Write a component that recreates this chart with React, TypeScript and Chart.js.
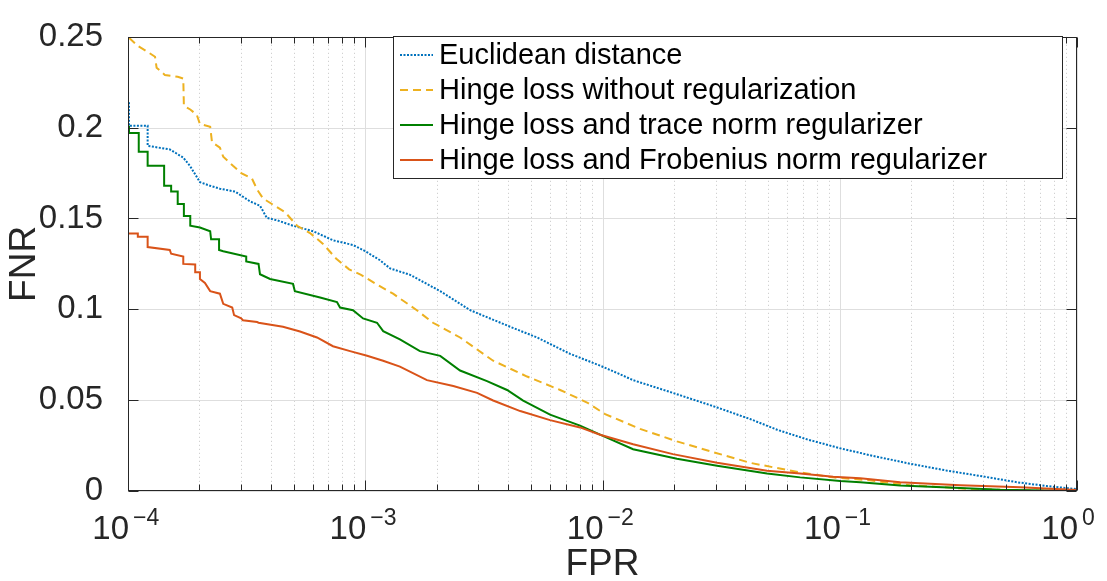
import React, { useEffect, useRef } from 'react';
import { Chart, registerables } from 'chart.js';

Chart.register(...registerables);

const FONT = '"Liberation Sans", Arial, Helvetica, sans-serif';

const seriesLabels = [
  'Euclidean distance',
  'Hinge loss without regularization',
  'Hinge loss and trace norm regularizer',
  'Hinge loss and Frobenius norm regularizer',
];
const seriesColors = ['#0072BD', '#EDB120', '#008000', '#D95319'];

const euclidFPR = [1.01e-4, 1.01e-4, 1.21e-4, 1.21e-4, 1.5e-4, 1.71e-4, 1.83e-4, 2.01e-4, 2.22e-4, 2.44e-4, 2.83e-4, 3.27e-4, 3.6e-4, 3.85e-4, 4.25e-4, 4.96e-4, 6.03e-4, 7.31e-4, 8.88e-4, 1.0e-3, 1.154e-3, 1.273e-3, 1.545e-3, 2.07e-3, 2.77e-3, 4.08e-3, 5.3e-3, 7.3e-3, 9.77e-3, 1.164e-2, 1.346e-2, 1.98e-2, 3.04e-2, 4.19e-2, 5.45e-2, 7.29e-2, 0.1004, 0.1383, 0.198, 0.2837, 0.4024, 0.56, 0.749, 1.0];
const euclidFNR = [0.214, 0.201, 0.201, 0.19, 0.188, 0.1835, 0.1787, 0.17, 0.168, 0.1664, 0.1648, 0.1594, 0.157, 0.1503, 0.149, 0.146, 0.143, 0.138, 0.1354, 0.132, 0.127, 0.1225, 0.119, 0.11, 0.0995, 0.0904, 0.0845, 0.0755, 0.069, 0.0647, 0.061, 0.054, 0.046, 0.0396, 0.0337, 0.0284, 0.0235, 0.0193, 0.015, 0.0112, 0.008, 0.0048, 0.0027, 0.001];

const hingeFPR = [1.01e-4, 1.1e-4, 1.2e-4, 1.3e-4, 1.32e-4, 1.43e-4, 1.62e-4, 1.71e-4, 1.72e-4, 1.83e-4, 1.95e-4, 2.01e-4, 2.22e-4, 2.26e-4, 2.44e-4, 2.52e-4, 2.77e-4, 3.0e-4, 3.33e-4, 3.5e-4, 3.71e-4, 4.59e-4, 5.16e-4, 5.85e-4, 6.64e-4, 7.53e-4, 8.55e-4, 9.6e-4, 1.11e-3, 1.31e-3, 1.65e-3, 1.93e-3, 2.51e-3, 3.46e-3, 4.81e-3, 6.63e-3, 8.61e-3, 1.026e-2, 1.44e-2, 2.06e-2, 2.84e-2, 4.19e-2, 6.81e-2, 9.38e-2, 0.1305, 0.198, 0.35, 0.6, 1.0];
const hingeFNR = [0.2495, 0.245, 0.242, 0.239, 0.233, 0.229, 0.228, 0.227, 0.212, 0.21, 0.207, 0.202, 0.2005, 0.192, 0.189, 0.184, 0.179, 0.175, 0.172, 0.166, 0.161, 0.1535, 0.146, 0.142, 0.136, 0.128, 0.122, 0.119, 0.114, 0.1086, 0.0995, 0.0926, 0.0845, 0.0717, 0.063, 0.0556, 0.0487, 0.0423, 0.0342, 0.0273, 0.0219, 0.0155, 0.0102, 0.0075, 0.006, 0.0032, 0.0012, 0.0003, 0];

const traceFPR = [1.01e-4, 1.01e-4, 1.11e-4, 1.11e-4, 1.21e-4, 1.21e-4, 1.42e-4, 1.42e-4, 1.52e-4, 1.52e-4, 1.62e-4, 1.62e-4, 1.72e-4, 1.72e-4, 1.83e-4, 1.83e-4, 2.01e-4, 2.22e-4, 2.24e-4, 2.42e-4, 2.42e-4, 2.52e-4, 3.15e-4, 3.15e-4, 3.55e-4, 3.6e-4, 3.97e-4, 4.96e-4, 5.05e-4, 6.45e-4, 7.6e-4, 7.83e-4, 8.88e-4, 9.79e-4, 1.121e-3, 1.19e-3, 1.4e-3, 1.7e-3, 2.07e-3, 2.51e-3, 3.26e-3, 3.96e-3, 4.63e-3, 6.01e-3, 8.04e-3, 9.77e-3, 1.346e-2, 2.06e-2, 3.04e-2, 4.94e-2, 6.81e-2, 0.1004, 0.122, 0.1797, 0.322, 0.4746, 1.0];
const traceFNR = [0.201, 0.197, 0.197, 0.1867, 0.1867, 0.179, 0.179, 0.168, 0.168, 0.1648, 0.1648, 0.158, 0.158, 0.1514, 0.1514, 0.146, 0.145, 0.143, 0.1385, 0.1385, 0.1327, 0.132, 0.129, 0.1263, 0.125, 0.1193, 0.1167, 0.114, 0.11, 0.1065, 0.104, 0.101, 0.0995, 0.095, 0.0926, 0.088, 0.0835, 0.077, 0.0744, 0.0663, 0.0605, 0.0556, 0.0498, 0.042, 0.036, 0.031, 0.023, 0.0177, 0.0139, 0.0096, 0.0075, 0.0055, 0.0048, 0.003, 0.0016, 0.0007, 0];

const frobFPR = [1.01e-4, 1.1e-4, 1.1e-4, 1.21e-4, 1.21e-4, 1.5e-4, 1.52e-4, 1.71e-4, 1.71e-4, 1.92e-4, 1.92e-4, 2.01e-4, 2.01e-4, 2.11e-4, 2.22e-4, 2.44e-4, 2.52e-4, 2.75e-4, 2.8e-4, 3.0e-4, 3.05e-4, 3.5e-4, 3.55e-4, 4.5e-4, 5.31e-4, 6.26e-4, 7.31e-4, 8.63e-4, 1.018e-3, 1.189e-3, 1.4e-3, 1.82e-3, 2.35e-3, 2.96e-3, 3.46e-3, 4.5e-3, 6.01e-3, 8.04e-3, 9.77e-3, 1.346e-2, 1.98e-2, 3.04e-2, 4.94e-2, 6.81e-2, 9.38e-2, 0.122, 0.1797, 0.322, 0.576, 1.0];
const frobFNR = [0.1418, 0.1418, 0.14, 0.14, 0.1343, 0.1327, 0.1306, 0.129, 0.125, 0.1247, 0.1204, 0.1204, 0.1167, 0.1145, 0.11, 0.1086, 0.103, 0.101, 0.0968, 0.095, 0.094, 0.093, 0.0926, 0.0904, 0.0878, 0.0845, 0.0797, 0.077, 0.0744, 0.0717, 0.0685, 0.061, 0.0578, 0.054, 0.0498, 0.044, 0.039, 0.035, 0.031, 0.0257, 0.0203, 0.0155, 0.0112, 0.0096, 0.0078, 0.007, 0.0048, 0.0032, 0.002, 0.0005];

const xExponents = [-4, -3, -2, -1, 0];
const xExponentLabels = ['\u22124', '\u22123', '\u22122', '\u22121', '0'];
const yTicks = [0, 0.05, 0.1, 0.15, 0.2, 0.25];
const yTickLabels = ['0', '0.05', '0.1', '0.15', '0.2', '0.25'];

const seriesX = [euclidFPR, hingeFPR, traceFPR, frobFPR];
const seriesY = [euclidFNR, hingeFNR, traceFNR, frobFNR];
const seriesDash: number[][] = [[2, 1.5], [8, 5], [], []];
const seriesOrder = [3, 2, 1, 0];

const AXIS = '#262626';

const matlabPlugin = {
  id: 'matlabAxes',
  beforeDatasetsDraw(chart: any) {
    const { ctx, chartArea, scales } = chart;
    const { left, right, top, bottom } = chartArea;
    const x = scales.x, y = scales.y;
    ctx.save();
    ctx.lineWidth = 1;
    ctx.strokeStyle = '#c6c6c6';
    ctx.setLineDash([1, 3]);
    for (let e = -4; e < 0; e++) {
      for (let m = 2; m <= 9; m++) {
        const px = Math.round(x.getPixelForValue(m * Math.pow(10, e))) + 0.5;
        ctx.beginPath(); ctx.moveTo(px, top); ctx.lineTo(px, bottom); ctx.stroke();
      }
    }
    ctx.setLineDash([]);
    ctx.strokeStyle = '#dedede';
    for (const e of xExponents) {
      const px = Math.round(x.getPixelForValue(Math.pow(10, e))) + 0.5;
      ctx.beginPath(); ctx.moveTo(px, top); ctx.lineTo(px, bottom); ctx.stroke();
    }
    for (const v of yTicks) {
      const py = Math.round(y.getPixelForValue(v)) + 0.5;
      ctx.beginPath(); ctx.moveTo(left, py); ctx.lineTo(right, py); ctx.stroke();
    }
    ctx.restore();
  },
  afterDatasetsDraw(chart: any) {
    const { ctx, chartArea, scales } = chart;
    const { left, right, top, bottom } = chartArea;
    const x = scales.x, y = scales.y;
    ctx.save();
    ctx.strokeStyle = AXIS;
    ctx.lineWidth = 1;
    ctx.setLineDash([]);
    const L = Math.round(left) + 0.5, R = Math.round(right) - 0.5;
    const T = Math.round(top) + 0.5, B = Math.round(bottom) - 0.5;
    ctx.strokeRect(L, T, R - L, B - T);
    const tick = (x1: number, y1: number, x2: number, y2: number) => {
      ctx.beginPath(); ctx.moveTo(x1, y1); ctx.lineTo(x2, y2); ctx.stroke();
    };
    for (let e = -4; e <= 0; e++) {
      const mx = e < 0 ? 9 : 1;
      for (let m = 1; m <= mx; m++) {
        const px = Math.round(x.getPixelForValue(m * Math.pow(10, e))) + 0.5;
        const len = m === 1 ? 10 : 6;
        tick(px, T, px, T + len);
        tick(px, B, px, B - len);
      }
    }
    for (const v of yTicks) {
      const py = Math.round(y.getPixelForValue(v)) + 0.5;
      tick(L, py, L + 10, py);
      tick(R, py, R - 10, py);
    }
    ctx.restore();
  },
  afterDraw(chart: any) {
    const { ctx, scales } = chart;
    const x = scales.x;
    ctx.save();
    ctx.fillStyle = AXIS;
    ctx.textBaseline = 'alphabetic';
    xExponents.forEach((e, i) => {
      const px = x.getPixelForValue(Math.pow(10, e));
      ctx.font = `33px ${FONT}`;
      ctx.textAlign = 'right';
      ctx.fillText('10', px + 1, 539);
      ctx.font = `23px ${FONT}`;
      ctx.textAlign = 'left';
      ctx.fillText(xExponentLabels[i], px + 5, 525);
    });
    const bx = 393.5, by = 36.5, bw = 669, bh = 142;
    ctx.fillStyle = '#ffffff';
    ctx.fillRect(bx, by, bw, bh);
    ctx.strokeStyle = AXIS;
    ctx.lineWidth = 1;
    ctx.strokeRect(bx, by, bw, bh);
    ctx.font = `29px ${FONT}`;
    ctx.textAlign = 'left';
    ctx.textBaseline = 'middle';
    seriesLabels.forEach((label, i) => {
      const cy = 55 + i * 35;
      ctx.strokeStyle = seriesColors[i];
      ctx.lineWidth = 2;
      ctx.setLineDash(seriesDash[i]);
      ctx.beginPath(); ctx.moveTo(400, cy); ctx.lineTo(433, cy); ctx.stroke();
      ctx.setLineDash([]);
      ctx.fillStyle = '#000000';
      ctx.fillText(label, 439, cy + 1);
    });
    ctx.restore();
  },
};

export default function App() {
  const ref = useRef<HTMLCanvasElement>(null);
  useEffect(() => {
    document.body.style.margin = '0';
    const datasets = seriesLabels.map((label, i) => ({
      label,
      data: seriesX[i].map((v, k) => ({ x: v, y: seriesY[i][k] })),
      borderColor: seriesColors[i],
      backgroundColor: seriesColors[i],
      borderWidth: 2,
      borderDash: seriesDash[i],
      pointRadius: 0,
      tension: 0,
      fill: false,
      order: seriesOrder[i],
    }));
    const chart = new Chart(ref.current as HTMLCanvasElement, {
      type: 'line',
      data: { datasets },
      options: {
        animation: false,
        responsive: false,
        devicePixelRatio: 1,
        layout: { padding: { top: 24, right: 30, bottom: 0, left: 0 } },
        plugins: { legend: { display: false }, tooltip: { enabled: false } },
        scales: {
          x: {
            type: 'logarithmic',
            min: 1e-4,
            max: 1,
            grid: { display: false },
            border: { display: false },
            ticks: { display: false },
            title: { display: true, text: 'FPR', color: AXIS, font: { family: FONT, size: 37, lineHeight: 0.9 }, padding: 0 },
            afterFit: (s: any) => { s.height = 90; },
          },
          y: {
            type: 'linear',
            min: 0,
            max: 0.25,
            grid: { display: false },
            border: { display: false },
            afterBuildTicks: (s: any) => { s.ticks = yTicks.map((v) => ({ value: v })); },
            ticks: {
              padding: 17,
              color: AXIS,
              font: { family: FONT, size: 33 },
              callback: (_v: any, i: number) => yTickLabels[i],
            },
            title: { display: true, text: 'FNR', color: AXIS, font: { family: FONT, size: 37, lineHeight: 0.9 }, padding: { top: 8, bottom: 0 } },
            afterFit: (s: any) => { s.width = 128; },
          },
        },
      } as any,
      plugins: [matlabPlugin],
    });
    return () => chart.destroy();
  }, []);
  return (
    <div style={{ width: 1107, height: 581 }}>
      <canvas ref={ref} width={1107} height={581} style={{ display: 'block' }} />
    </div>
  );
}
